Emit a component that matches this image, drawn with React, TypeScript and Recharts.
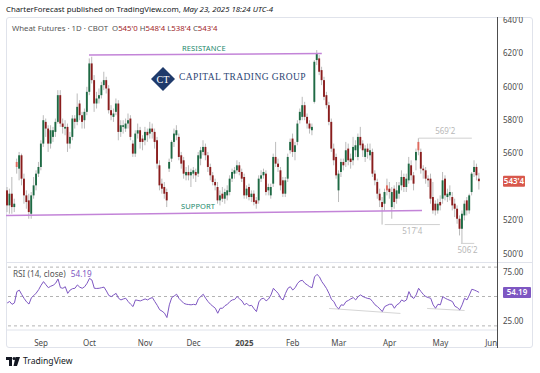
import React from "react";
import { ComposedChart, Bar, XAxis, YAxis, ReferenceLine, LineChart, Line } from "recharts";

// daily OHLC, Aug 13 2024 -> May 23 2025 (cents/bu)
const opens = [
  538, 529, 536, 528, 555, 551, 559, 545, 535, 532, 524, 535, 541, 548, 552, 566, 579, 575, 566, 570,
  573, 579, 595, 578, 575, 576, 566, 570, 581, 579, 590, 583, 580, 585, 597, 614, 604, 590, 593, 595,
  601, 604, 599, 586, 582, 585, 590, 573, 576, 575, 578, 581, 566, 560, 572, 574, 569, 568, 573, 572,
  575, 573, 568, 553, 542, 540, 537, 551, 557, 567, 571, 570, 559, 556, 547, 549, 547, 548, 549, 548,
  557, 561, 564, 559, 552, 547, 543, 540, 532, 536, 533, 535, 537, 545, 548, 550, 553, 549, 546, 535,
  540, 534, 536, 532, 532, 545, 547, 548, 538, 535, 542, 558, 554, 550, 544, 536, 545, 562, 569, 561,
  567, 580, 582, 589, 582, 578, 574, 591, 616, 617, 610, 604, 595, 589, 579, 563, 558, 538, 549, 555,
  555, 563, 557, 556, 562, 558, 570, 566, 558, 563, 559, 561, 548, 543, 536, 531, 530, 541, 539, 528,
  539, 533, 536, 541, 546, 540, 544, 553, 547, 556, 567, 561, 551, 550, 545, 545, 534, 530, 526, 531,
  533, 545, 534, 535, 534, 530, 527, 521, 515, 523, 532, 526, 537, 549, 552, 545,
];
const highs = [
  540, 539, 546, 533, 557, 561, 560, 548, 538, 536, 537, 546, 550, 555, 568, 583, 581, 577, 577, 576,
  581, 598, 598, 581, 580, 578, 573, 583, 583, 596, 592, 585, 587, 600, 617, 618, 607, 597, 599, 603,
  609, 606, 601, 589, 587, 593, 592, 580, 580, 581, 584, 583, 568, 574, 578, 576, 571, 576, 575, 579,
  578, 575, 570, 556, 545, 543, 539, 557, 568, 575, 577, 572, 561, 558, 552, 553, 551, 552, 551, 561,
  564, 568, 566, 561, 554, 549, 545, 543, 538, 540, 539, 541, 547, 551, 552, 556, 555, 551, 548, 541,
  542, 538, 538, 534, 547, 550, 551, 550, 542, 542, 560, 567, 557, 552, 546, 546, 560, 569, 572, 567,
  580, 587, 594, 591, 584, 580, 578, 616, 622, 619, 612, 606, 597, 591, 581, 566, 560, 550, 557, 557,
  567, 566, 560, 570, 568, 572, 576, 568, 565, 566, 566, 563, 550, 545, 539, 534, 539, 545, 543, 540,
  541, 543, 543, 550, 548, 548, 558, 556, 549, 563, 569.25, 563, 553, 552, 547, 548, 543, 532, 533, 535,
  549, 547, 539, 541, 537, 533, 529, 523, 526, 532, 534, 536, 549, 556, 554, 548.5,
];
const lows = [
  525, 524, 524, 525, 548, 544, 541, 530, 527, 521, 521, 533, 538, 546, 550, 564, 570, 561, 563, 567,
  570, 578, 576, 572, 571, 561, 563, 568, 575, 577, 580, 575, 575, 583, 595, 602, 585, 587, 590, 593,
  598, 596, 584, 580, 579, 583, 568, 570, 572, 573, 575, 568, 558, 558, 569, 563, 562, 565, 567, 569,
  569, 563, 551, 538, 536, 533, 528, 549, 555, 564, 568, 556, 551, 545, 544, 544, 540, 545, 543, 546,
  553, 559, 556, 549, 544, 541, 538, 530, 529, 531, 530, 532, 535, 543, 545, 548, 547, 543, 533, 533,
  532, 531, 529, 527, 530, 543, 545, 535, 535, 533, 540, 552, 549, 538, 534, 534, 543, 560, 558, 556,
  565, 578, 580, 580, 575, 572, 571, 590, 613, 607, 601, 592, 587, 577, 561, 553, 545, 531, 546, 550,
  552, 553, 551, 553, 558, 556, 563, 558, 555, 557, 556, 546, 541, 533, 528, 517.5, 526, 535, 533, 521,
  527, 530, 533, 538, 537, 537, 542, 544, 538, 550, 559, 548, 545, 542, 540, 530, 524, 523, 524, 526,
  530, 532, 531, 532, 526, 522, 518, 511, 506.25, 520, 523, 524, 535, 546, 544, 538.5,
];
const closes = [
  529, 536, 528, 530, 552, 559, 545, 535, 531, 525, 535, 541, 548, 552, 566, 580, 575, 566, 574, 574,
  579, 595, 578, 576, 576, 566, 570, 581, 579, 588, 583, 579, 585, 597, 614, 604, 590, 593, 595, 601,
  604, 599, 586, 583, 584, 590, 573, 577, 577, 578, 580, 570, 560, 572, 574, 567, 567, 573, 571, 575,
  573, 567, 554, 541, 539, 536, 532, 555, 567, 572, 574, 558, 554, 548, 549, 547, 549, 550, 547, 559,
  562, 564, 559, 552, 547, 543, 541, 532, 535, 533, 537, 538, 545, 549, 550, 553, 549, 545, 535, 539,
  534, 536, 531, 530, 545, 547, 549, 537, 540, 540, 558, 554, 552, 541, 536, 544, 558, 567, 561, 565,
  578, 585, 589, 582, 578, 575, 576, 615, 620, 609, 604, 594, 589, 579, 563, 556, 547, 548, 555, 553,
  562, 556, 555, 564, 565, 570, 565, 562, 563, 561, 562, 548, 544, 536, 532, 528, 537, 538, 537, 537,
  531, 538, 541, 546, 540, 545, 554, 547, 542, 561, 562, 551, 550, 545, 544, 533, 526, 526, 530, 529,
  544, 535, 536, 537, 529, 527, 521, 515, 524, 530, 526, 535, 548, 552, 547, 543.5,
];

// RSI (14, close)
const rsiValues = [
  43.4, 44.9, 42, 43.5, 55, 56.5, 52, 48, 44.5, 42.3, 48.8, 51, 53.5, 57, 61.5, 65.2, 62, 59, 60.5, 61.5,
  63.5, 67.9, 59, 58.4, 60, 53.2, 56.6, 58, 58.4, 61.8, 59.5, 58.4, 60, 63.5, 68.5, 66.8, 58.4, 58.2, 58.4, 59,
  59.6, 55.6, 51, 49.9, 51.6, 53.2, 48.2, 46.5, 47.5, 48.2, 44.8, 42.1, 39.7, 46.5, 46, 45.5, 46.5, 47.5, 46.5, 48,
  48.9, 44.8, 41, 36.5, 35, 33, 28.5, 41.5, 48.9, 50.5, 52.3, 48, 45.5, 43, 42.1, 41.8, 41.5, 42, 41.5, 47.6,
  50, 52.3, 48.2, 44.8, 42.1, 40, 38, 32.9, 38, 38, 40.7, 42, 44.8, 46.5, 47, 50, 47.6, 45.5, 41.5, 43,
  40.5, 41, 37.5, 34.6, 44.5, 47.6, 48.2, 45.5, 47.5, 51.6, 58.4, 55.6, 53.2, 48.2, 46.5, 53.2, 58.4, 60, 56.6, 59,
  63.5, 65.9, 66.5, 63.5, 61.8, 60, 59, 70, 72.6, 70.2, 65.2, 61.8, 58, 53, 47, 44.8, 39.7, 37.3, 41.5, 41,
  44.8, 46, 47.6, 48.9, 46.5, 49.9, 51.6, 50, 48.9, 48, 47.6, 44.8, 41.5, 39.7, 37.3, 34.6, 39.7, 41, 42.1, 42.1,
  38, 41.5, 43, 46.5, 45, 46.5, 55, 49.9, 48, 51.6, 58.4, 55, 52, 49.9, 48.9, 48.2, 41.5, 38, 42.1, 41.5,
  49.9, 48.2, 47, 46, 44.8, 40, 38.7, 36.3, 41.5, 48.2, 46.5, 51.6, 57.4, 56.6, 55.5, 54.19,
];

// first bar of each month (bar index) and its label
const monthTicks = [14, 34, 57, 77, 98, 118, 137, 158, 179, 200];
const monthLabels = ["Sep", "Oct", "Nov", "Dec", "2025", "Feb", "Mar", "Apr", "May", "Jun"];
// 540'0 sits under the last-price tag, as in the original
const priceTicks = [500, 520, 560, 580, 600, 620, 640];
const rsiTicks = [25, 75];
const rsiBands = [80, 50, 20];

// drawn levels
const supportLine = [{ x: -0.5, y: 522.9 }, { x: 171.4, y: 525.9 }];
const resistanceLine = [{ x: 33.8, y: 619 }, { x: 130, y: 620 }];
const highMark = [{ x: 170, y: 569.25 }, { x: 192, y: 569.25 }];
const lowMark = [{ x: 156, y: 517.5 }, { x: 178.8, y: 517.5 }];
const lowMark2 = [{ x: 187.5, y: 506.25 }, { x: 193, y: 506.25 }];
const rsiTrend1 = [{ x: 133, y: 37.8 }, { x: 162.5, y: 32.7 }];
const rsiTrend2 = [{ x: 173.5, y: 37.8 }, { x: 189, y: 35.7 }];

const X_DOMAIN = [-0.5, 202.4];
const FONT = '"Noto Sans", "DejaVu Sans", sans-serif';

const fmt = (v: number) => `${Math.floor(v)}'${Math.round((v % 1) * 8)}`;

const candles = closes.map((c, i) => ({
  i,
  o: opens[i],
  h: highs[i],
  l: lows[i],
  c,
  prev: i > 0 ? closes[i - 1] : opens[i],
  range: [lows[i], highs[i]],
}));
const rsiData = rsiValues.map((v, i) => ({ i, v }));

const last = candles[candles.length - 1];
const lastRsi = rsiValues[rsiValues.length - 1];

function Candle(props: any) {
  const { x, y, width, height, payload } = props;
  if (x == null || !payload) return null;
  const top = Math.min(y, y + height);
  const h = Math.abs(height);
  const span = payload.h - payload.l || 1;
  const py = (p: number) => top + ((payload.h - p) / span) * h;
  const cx = x + width / 2;
  const up = payload.c >= payload.o;
  const strong = up ? payload.c >= payload.prev : payload.c <= payload.prev;
  const fill = up ? (strong ? "#1e6a44" : "#7fbf9b") : strong ? "#8a1d1d" : "#e06a5e";
  const bTop = py(Math.max(payload.o, payload.c));
  const bBot = py(Math.min(payload.o, payload.c));
  return (
    <g>
      <line x1={cx} x2={cx} y1={top} y2={top + h} stroke="#a9a9a9" strokeWidth={0.8} />
      <rect x={cx - 0.95} y={bTop} width={1.9} height={Math.max(bBot - bTop, 0.9)} fill={fill} />
    </g>
  );
}

function AxisTag(props: any) {
  const { viewBox, text, color, w } = props;
  if (!viewBox) return null;
  const x = viewBox.x + viewBox.width + 6;
  return (
    <g>
      <rect x={x} y={viewBox.y - 5.5} width={w} height={11} fill={color} rx={1} />
      <text x={x + w / 2} y={viewBox.y + 3} textAnchor="middle" fontSize={8} fill="#fff" fontWeight={600}>
        {text}
      </text>
    </g>
  );
}

function MonthTick(props: any) {
  const { x, y, payload } = props;
  const label = monthLabels[monthTicks.indexOf(payload.value)];
  return (
    <text x={x} y={y + 8} textAnchor="middle" fontSize={8} fill="#4a4a4a" fontWeight={label === "2025" ? 700 : 400}>
      {label}
    </text>
  );
}

const markLabel = (value: string, position: string) => ({ value, position, fill: "#b8b8b8", fontSize: 8, offset: 4 });

export default function App() {
  return (
    <div style={{ position: "absolute", left: 0, top: 0, width: 540, height: 373, background: "#fff", fontFamily: FONT, color: "#131722", overflow: "hidden" }}>
      <div style={{ position: "absolute", left: 6, top: 4, fontSize: 7.8, whiteSpace: "nowrap" }}>
        CharterForecast published on TradingView.com, <i>May 23, 2025 18:24 UTC-4</i>
      </div>

      {/* frame */}
      <div style={{ position: "absolute", left: 6, top: 17, width: 527, height: 331, border: "1px solid #e0e3eb", boxSizing: "border-box", borderRadius: 3 }} />

      {/* price pane */}
      <div style={{ position: "absolute", left: 6, top: 17 }}>
        <ComposedChart width={527} height={246} data={candles} margin={{ top: 0, right: 0, bottom: 0, left: 0 }}>
          <XAxis dataKey="i" type="number" domain={X_DOMAIN} allowDataOverflow hide />
          <YAxis
            orientation="right"
            width={36}
            domain={[494.5, 641.8]}
            ticks={priceTicks}
            interval={0}
            allowDataOverflow
            axisLine={false}
            tickLine={false}
            tickSize={4}
            tick={{ fontSize: 8, fill: "#4a4a4a" }}
            tickFormatter={(v: number) => fmt(v)}
          />
          <Bar dataKey="range" barSize={2} shape={<Candle />} isAnimationActive={false} />
          <ReferenceLine segment={supportLine} stroke="#c384d8" strokeWidth={1.5} ifOverflow="visible" />
          <ReferenceLine segment={resistanceLine} stroke="#c384d8" strokeWidth={1.5} ifOverflow="visible" />
          <ReferenceLine segment={highMark} stroke="#d0d0d0" strokeWidth={1} label={markLabel(fmt(569.25), "top")} />
          <ReferenceLine segment={lowMark} stroke="#d0d0d0" strokeWidth={1} label={markLabel(fmt(517.5), "bottom")} />
          <ReferenceLine segment={lowMark2} stroke="#d0d0d0" strokeWidth={1} label={markLabel(fmt(506.25), "bottom")} />
          <ReferenceLine y={last.c} stroke="none" label={<AxisTag text={fmt(last.c)} color="#d8584c" w={22} />} />
        </ComposedChart>
      </div>

      {/* legend */}
      <div style={{ position: "absolute", left: 12, top: 23, fontSize: 7.8, color: "#555", whiteSpace: "nowrap" }}>
        Wheat Futures · 1D · CBOT&nbsp;&nbsp;
        <span style={{ color: "#555" }}>O</span><span style={{ color: "#a3262a" }}>{fmt(last.o)}</span>{" "}
        <span style={{ color: "#555" }}>H</span><span style={{ color: "#a3262a" }}>{fmt(last.h)}</span>{" "}
        <span style={{ color: "#555" }}>L</span><span style={{ color: "#a3262a" }}>{fmt(last.l)}</span>{" "}
        <span style={{ color: "#555" }}>C</span><span style={{ color: "#a3262a" }}>{fmt(last.c)}</span>
      </div>

      {/* annotations */}
      <div style={{ position: "absolute", left: 182, top: 43, fontSize: 7.5, color: "#23896c", letterSpacing: 0.1 }}>RESISTANCE</div>
      <div style={{ position: "absolute", left: 181, top: 201, fontSize: 7.5, color: "#23896c", letterSpacing: 0.1 }}>SUPPORT</div>

      {/* watermark */}
      <div style={{ position: "absolute", left: 151, top: 67 }}>
        <svg width={24} height={24}>
          <polygon points="12,0 24,12 12,24 0,12" fill="#1f3a6b" />
          <text x={12} y={16} textAnchor="middle" fontSize={10} fill="#fff" fontFamily="Liberation Serif, serif">CT</text>
        </svg>
      </div>
      <div style={{ position: "absolute", left: 179, top: 72, fontSize: 9.5, color: "#2b4474", fontFamily: '"Liberation Serif", "DejaVu Serif", serif', letterSpacing: 0.4, whiteSpace: "nowrap" }}>
        CAPITAL TRADING GROUP
      </div>

      {/* pane separator */}
      <div style={{ position: "absolute", left: 6, top: 262, width: 527, height: 1, background: "#e0e3eb" }} />

      {/* RSI pane */}
      <div style={{ position: "absolute", left: 6, top: 263 }}>
        <LineChart width={527} height={85} data={rsiData} margin={{ top: 0, right: 0, bottom: 0, left: 0 }}>
          <XAxis
            dataKey="i"
            type="number"
            domain={X_DOMAIN}
            allowDataOverflow
            ticks={monthTicks}
            interval={0}
            height={18}
            axisLine={{ stroke: "#e0e3eb" }}
            tickLine={false}
            tick={<MonthTick />}
          />
          <YAxis
            orientation="right"
            width={36}
            domain={[15.8, 84.2]}
            ticks={rsiTicks}
            interval={0}
            allowDataOverflow
            axisLine={false}
            tickLine={false}
            tickSize={4}
            tick={{ fontSize: 8, fill: "#4a4a4a" }}
            tickFormatter={(v: number) => v.toFixed(2)}
          />
          {rsiBands.map((b) => (
            <ReferenceLine key={b} y={b} stroke="#a0a0a0" strokeDasharray="3 3" strokeWidth={0.8} />
          ))}
          <ReferenceLine segment={rsiTrend1} stroke="#d6d6d6" strokeWidth={1} />
          <ReferenceLine segment={rsiTrend2} stroke="#d6d6d6" strokeWidth={1} />
          <Line dataKey="v" stroke="#7e57c2" strokeWidth={1} dot={false} isAnimationActive={false} />
          <ReferenceLine y={lastRsi} stroke="none" label={<AxisTag text={lastRsi.toFixed(2)} color="#7e57c2" w={28} />} />
        </LineChart>
      </div>
      <div style={{ position: "absolute", left: 13, top: 268, fontSize: 8.2, color: "#555", whiteSpace: "nowrap" }}>
        RSI (14, close) <span style={{ color: "#7e57c2", marginLeft: 3 }}>{lastRsi.toFixed(2)}</span>
      </div>

      {/* price scale border */}
      <div style={{ position: "absolute", left: 497, top: 17, width: 1, height: 331, background: "#4d4d4d" }} />

      {/* footer */}
      <div style={{ position: "absolute", left: 6, top: 355, display: "flex", alignItems: "center", gap: 3 }}>
        <svg width={14} height={9}>
          <rect x={0} y={0} width={6} height={3} fill="#131722" />
          <rect x={3} y={0} width={3} height={9} fill="#131722" />
          <circle cx={8} cy={1.5} r={1.5} fill="#131722" />
          <polygon points="9.5,0 14,0 11,9 7.5,9" fill="#131722" />
        </svg>
        <span style={{ fontSize: 8.6, color: "#131722" }}>TradingView</span>
      </div>
    </div>
  );
}
